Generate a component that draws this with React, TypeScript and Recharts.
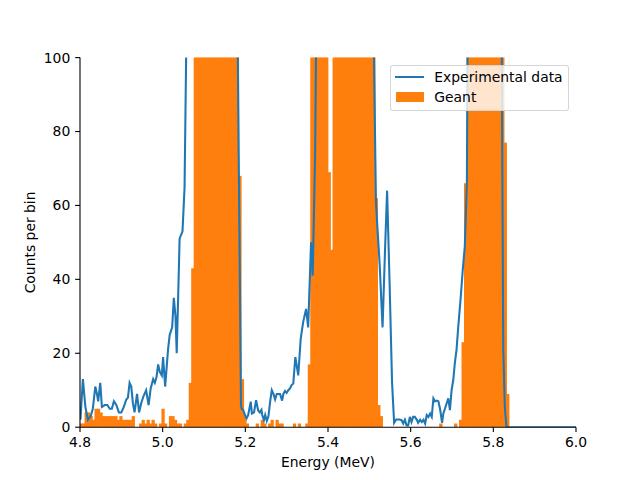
import React from 'react';
import { ComposedChart, Bar, Line, XAxis, YAxis, Legend } from 'recharts';

const FONT = '"DejaVu Sans", sans-serif';
const BLUE = '#1f77b4';
const ORANGE = '#ff7f0e';

// Geant histogram: bin centres (MeV, 6 keV bins) and counts (non-empty bins only)
const geantEnergy = [
  4.803, 4.809, 4.815, 4.821, 4.827, 4.833, 4.839, 4.845, 4.851, 4.857, 4.863, 4.869, 4.875, 4.881, 4.887, 4.893, 4.899, 4.905, 4.911, 4.917, 4.923, 4.929,
  4.947, 4.953, 4.959, 4.965, 4.971, 4.977, 4.983, 4.995, 5.001, 5.007, 5.019, 5.025, 5.031, 5.037, 5.043, 5.055, 5.061, 5.067, 5.073,
  5.079, 5.085, 5.091, 5.097, 5.103, 5.109, 5.115, 5.121, 5.127, 5.133, 5.139, 5.145, 5.151, 5.157, 5.163, 5.169, 5.175, 5.181,
  5.187, 5.193, 5.199, 5.205, 5.229, 5.241, 5.247, 5.259, 5.265, 5.277, 5.283, 5.289, 5.319, 5.331, 5.349, 5.355,
  5.361, 5.367, 5.373, 5.379, 5.385, 5.391, 5.397,
  5.403, 5.409,
  5.415, 5.421, 5.427, 5.433, 5.439, 5.445, 5.451, 5.457, 5.463, 5.469, 5.475, 5.481, 5.487, 5.493, 5.499, 5.505, 5.511,
  5.517, 5.523, 5.529,
  5.673, 5.709, 5.721, 5.727, 5.733,
  5.739, 5.745, 5.751, 5.757, 5.763, 5.769, 5.775, 5.781, 5.787, 5.793, 5.799, 5.805, 5.811, 5.817, 5.823,
  5.829, 5.835,
];
const geantCounts = [
  1, 1, 4, 4, 3, 2, 5, 5, 4, 3, 3, 3, 3, 3, 3, 2, 3, 2, 2, 2, 2, 3,
  1, 2, 1, 2, 1, 2, 1, 1, 5, 1, 3, 3, 2, 1, 1, 1, 2, 12, 43,
  160, 290, 430, 560, 660, 720, 740, 720, 670, 600, 520, 440, 360, 290, 220, 170, 130, 110,
  68, 13, 3, 1, 1, 2, 1, 1, 2, 2, 1, 1, 1, 1, 1, 17,
  130, 240, 330, 360, 310, 210, 120,
  69, 48,
  140, 260, 420, 580, 720, 820, 880, 900, 870, 800, 700, 580, 450, 330, 230, 160, 115,
  62, 6, 3,
  1, 1, 2, 23, 66,
  150, 300, 480, 650, 780, 860, 890, 860, 780, 660, 520, 380, 260, 170, 120,
  77, 9,
];

// Experimental data: energy (MeV) and counts
const expEnergy = [
  4.801, 4.807, 4.813, 4.819, 4.826, 4.831, 4.837, 4.841, 4.844, 4.849, 4.853, 4.860, 4.866, 4.872, 4.877, 4.882, 4.888, 4.894, 4.900, 4.906,
  4.912, 4.916, 4.920, 4.924, 4.928, 4.932, 4.938, 4.943, 4.948, 4.954, 4.960, 4.966, 4.971, 4.977, 4.981, 4.985, 4.989, 4.993, 4.998, 5.001,
  5.006, 5.013, 5.017, 5.023, 5.027, 5.031, 5.034, 5.041, 5.048, 5.053, 5.060, 5.075, 5.095, 5.115, 5.135, 5.155, 5.170, 5.181, 5.1895,
  5.191, 5.195, 5.199, 5.203, 5.207, 5.213, 5.216, 5.221, 5.226, 5.231, 5.235, 5.239, 5.241, 5.245, 5.248, 5.252, 5.256, 5.260, 5.264, 5.268,
  5.272, 5.276, 5.281, 5.284, 5.289, 5.292, 5.296, 5.300, 5.304, 5.308, 5.312, 5.316, 5.321, 5.328, 5.334, 5.340, 5.347, 5.352, 5.359, 5.363,
  5.369, 5.373, 5.390, 5.420, 5.450, 5.480, 5.500, 5.510, 5.516, 5.519, 5.525, 5.532, 5.538, 5.543, 5.549, 5.555, 5.560,
  5.565, 5.573, 5.578, 5.582, 5.586, 5.590, 5.594, 5.598, 5.602, 5.606, 5.610, 5.615, 5.618, 5.623, 5.627, 5.631, 5.635, 5.639, 5.643, 5.647,
  5.651, 5.655, 5.659, 5.663, 5.667, 5.671, 5.676, 5.679, 5.683, 5.687, 5.691, 5.695, 5.699, 5.703, 5.707, 5.711, 5.715, 5.721, 5.726, 5.731,
  5.736, 5.739, 5.760, 5.780, 5.800, 5.815, 5.820, 5.824, 5.828, 5.832, 5.850, 5.900, 5.950, 6.000,
];
const expCounts = [
  2, 13, 5.5, 2, 3, 5, 11, 9, 7, 12, 5.5, 6, 6, 5, 5, 7, 6, 4, 4, 5.5,
  7.5, 8, 12, 11, 6.5, 4, 9, 4, 6.5, 8.5, 10, 6, 10.5, 13, 12, 13.5, 17, 15, 14, 19,
  11, 21, 25, 27, 35, 30, 20, 51, 53, 65, 130, 320, 560, 700, 680, 520, 300, 110, 6,
  5, 4.6, 3.3, 2.4, 3.3, 6.9, 3.7, 4, 7.3, 4.5, 4, 4.7, 3.3, 1.9, 3.3, 1.7, 3, 6.9, 10, 9,
  7.5, 9, 9, 9, 7.2, 9, 9.8, 9.3, 10, 10.5, 11.4, 11.8, 19, 14, 24, 28.5, 32, 27, 50, 41,
  75, 130, 350, 600, 700, 520, 260, 110, 61, 55, 44, 27, 48, 64, 39, 12, 1.2,
  2.1, 2.1, 1.9, 1, 2, 0.5, 0.5, 2.8, 1.4, 2.8, 2.8, 2, 1.2, 2, 1.4, 2, 1, 3.3, 2.8, 3.7,
  2.8, 7.8, 7, 7.2, 7, 5, 1.2, 3.7, 5, 6.4, 7.8, 4.6, 10, 12.7, 17.5, 21, 27, 35, 42.5, 49,
  66, 130, 420, 640, 560, 260, 110, 21, 5, 0, 0, 0, 0, 0,
];

const xTicks = [4.8, 5.0, 5.2, 5.4, 5.6, 5.8, 6.0];
const yTicks = [0, 20, 40, 60, 80, 100];

const geantData = geantEnergy.map((e, i) => ({ e, g: geantCounts[i] }));
const expData = expEnergy.map((e, i) => ({ e, c: expCounts[i] }));

const tickStyle = { fill: '#000', fontSize: 13.9, fontFamily: FONT };
const axisLineStyle = { stroke: '#000', strokeWidth: 1.1 };

// Histogram bar: drawn at the library-computed rectangle, slightly overlapped to avoid seams
const HistBar = (props: any) => {
  const { x, y, width, height } = props;
  if (x == null || y == null || !width || !height) return null;
  return <rect x={x - 0.4} y={y} width={width + 0.8} height={height} fill={ORANGE} />;
};

const LegendBox = () => (
  <div
    style={{
      position: 'relative',
      width: 179,
      height: 46,
      boxSizing: 'border-box',
      border: '1px solid rgba(204,204,204,0.8)',
      borderRadius: 3,
      background: 'rgba(255,255,255,0.8)',
      fontFamily: FONT,
      fontSize: 13.9,
      color: '#000',
    }}
  >
    <div style={{ position: 'absolute', left: 4, top: 9.7, width: 29, height: 2.1, background: BLUE }} />
    <div style={{ position: 'absolute', left: 43.3, top: 2.9, lineHeight: '16px', whiteSpace: 'nowrap' }}>
      Experimental data
    </div>
    <div style={{ position: 'absolute', left: 5, top: 26.3, width: 28, height: 9.5, background: ORANGE }} />
    <div style={{ position: 'absolute', left: 43.3, top: 23.2, lineHeight: '16px', whiteSpace: 'nowrap' }}>
      Geant
    </div>
  </div>
);

const YLabel = (props: any) => {
  const vb = props.viewBox || { x: 0, y: 57.6, width: 80, height: 369.6 };
  const cx = vb.x + 35;
  const cy = vb.y + vb.height / 2;
  return (
    <text
      x={cx}
      y={cy}
      transform={`rotate(-90 ${cx} ${cy})`}
      textAnchor="middle"
      fill="#000"
      fontSize={13.9}
      fontFamily={FONT}
    >
      Counts per bin
    </text>
  );
};

const XLabel = (props: any) => {
  const vb = props.viewBox || { x: 80, y: 427.2, width: 496, height: 52.8 };
  const cx = vb.x + vb.width / 2;
  const cy = vb.y + 39.5;
  return (
    <text x={cx} y={cy} textAnchor="middle" fill="#000" fontSize={13.9} fontFamily={FONT}>
      Energy (MeV)
    </text>
  );
};

export default function App() {
  return (
    <div style={{ position: 'absolute', left: 0, top: 0, width: 640, height: 480, background: '#fff' }}>
      <ComposedChart
        width={640}
        height={480}
        data={geantData}
        margin={{ top: 57.6, right: 64, bottom: 0, left: 0 }}
      >
        <XAxis
          dataKey="e"
          type="number"
          domain={[4.8, 6.0]}
          ticks={xTicks}
          interval={0}
          allowDataOverflow
          height={52.8}
          tickSize={4.86}
          tickMargin={5.5}
          tick={tickStyle}
          tickLine={axisLineStyle}
          axisLine={axisLineStyle}
          tickFormatter={(v: number) => v.toFixed(1)}
          label={{ content: XLabel }}
        />
        <XAxis
          xAxisId="top"
          orientation="top"
          dataKey="e"
          type="number"
          domain={[4.8, 6.0]}
          allowDataOverflow
          height={0}
          tick={false}
          tickLine={false}
          axisLine={axisLineStyle}
        />
        <YAxis
          type="number"
          domain={[0, 100]}
          ticks={yTicks}
          interval={0}
          allowDataOverflow
          width={80}
          tickSize={4.86}
          tickMargin={4.86}
          tick={tickStyle}
          tickLine={axisLineStyle}
          axisLine={axisLineStyle}
          label={{ content: YLabel }}
        />
        <YAxis
          yAxisId="right"
          orientation="right"
          type="number"
          domain={[0, 100]}
          width={0}
          tick={false}
          tickLine={false}
          axisLine={axisLineStyle}
        />
        <Bar
          dataKey="g"
          name="Geant"
          fill={ORANGE}
          barSize={2.47}
          shape={HistBar}
          isAnimationActive={false}
        />
        <Line
          xAxisId="top"
          data={expData}
          dataKey="c"
          name="Experimental data"
          type="linear"
          stroke={BLUE}
          strokeWidth={2.08}
          dot={false}
          activeDot={false}
          isAnimationActive={false}
        />
        <Legend
          content={LegendBox}
          layout="horizontal"
          verticalAlign="middle"
          align="center"
          wrapperStyle={{ left: 390, top: 65, width: 179, height: 46 }}
        />
      </ComposedChart>
    </div>
  );
}
